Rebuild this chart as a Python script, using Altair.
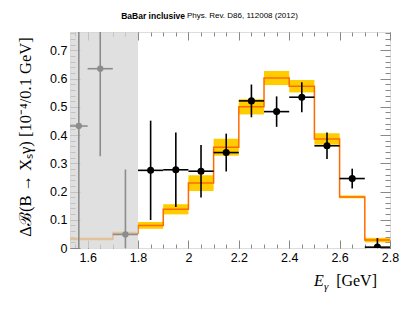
import altair as alt
import pandas as pd

# ---- data ----
edges = [1.53, 1.6, 1.7, 1.8, 1.9, 2.0, 2.1, 2.2, 2.3, 2.4, 2.5, 2.6, 2.7, 2.8]
pred = [0.032, 0.032, 0.052, 0.080, 0.137, 0.230, 0.357, 0.500, 0.602, 0.573, 0.386, 0.181, 0.028]
pred_err = [0.005, 0.005, 0.006, 0.012, 0.018, 0.028, 0.030, 0.027, 0.025, 0.022, 0.020, 0.005, 0.008]

data_x = [1.85, 1.95, 2.05, 2.15, 2.25, 2.35, 2.45, 2.55, 2.65, 2.75]
data_y = [0.275, 0.277, 0.272, 0.338, 0.521, 0.483, 0.534, 0.362, 0.246, 0.003]
data_err = [0.176, 0.132, 0.093, 0.067, 0.058, 0.054, 0.053, 0.047, 0.035, 0.032]
data_hw = [0.05] * 10

low_x = [1.565, 1.65, 1.75]
low_y = [0.432, 0.635, 0.048]
low_err = [0.48, 0.31, 0.23]
low_hw = [0.035, 0.05, 0.05]

region = [1.53, 1.8]

x_major = [1.6, 1.8, 2.0, 2.2, 2.4, 2.6, 2.8]
x_minor = [1.55, 1.6, 1.65, 1.7, 1.75, 1.8, 1.85, 1.9, 1.95, 2.0, 2.05, 2.1, 2.15, 2.2, 2.25,
           2.3, 2.35, 2.4, 2.45, 2.5, 2.55, 2.6, 2.65, 2.7, 2.75, 2.8]
y_major = [0, 0.1, 0.2, 0.3, 0.4, 0.5, 0.6, 0.7]
y_minor = [0, 0.02, 0.04, 0.06, 0.08, 0.1, 0.12, 0.14, 0.16, 0.18, 0.2, 0.22, 0.24, 0.26, 0.28,
           0.3, 0.32, 0.34, 0.36, 0.38, 0.4, 0.42, 0.44, 0.46, 0.48, 0.5, 0.52, 0.54, 0.56,
           0.58, 0.6, 0.62, 0.64, 0.66, 0.68, 0.7, 0.72, 0.74, 0.76]

# ---- tables ----
bins = pd.DataFrame({
    "lo": edges[:-1], "hi": edges[1:], "v": pred,
    "vlo": [v - e for v, e in zip(pred, pred_err)],
    "vhi": [v + e for v, e in zip(pred, pred_err)],
})
step = pd.DataFrame({"x": edges, "v": pred + [pred[-1]]})
pts = pd.DataFrame({
    "x": data_x, "y": data_y,
    "ylo": [y - e for y, e in zip(data_y, data_err)],
    "yhi": [y + e for y, e in zip(data_y, data_err)],
    "xlo": [x - h for x, h in zip(data_x, data_hw)],
    "xhi": [x + h for x, h in zip(data_x, data_hw)],
})
low = pd.DataFrame({
    "x": low_x, "y": low_y,
    "ylo": [y - e for y, e in zip(low_y, low_err)],
    "yhi": [y + e for y, e in zip(low_y, low_err)],
    "xlo": [x - h for x, h in zip(low_x, low_hw)],
    "xhi": [x + h for x, h in zip(low_x, low_hw)],
})
reg = pd.DataFrame({"a": [region[0]], "b": [region[1]]})

xs = alt.Scale(domain=[1.53, 2.8], nice=False, zero=False)
ys = alt.Scale(domain=[0, 0.765], nice=False, zero=False)

FRAME = "#888888"
SANS = "Liberation Sans"
SERIF = "Liberation Serif"


def ax(orient, values, size, labels=False):
    kw = dict(orient=orient, values=values, tickSize=size, offset=-size, domain=False,
              grid=False, tickColor=FRAME, tickWidth=1, title=None, labels=labels)
    if labels:
        kw.update(labelFont=SANS, labelFontSize=12.5, labelColor="black", format="~g",
                  labelPadding=3, labelFlush=False, labelOverlap=False)
    return alt.Axis(**kw)


band = alt.Chart(bins).mark_rect(color="#ffcc00", clip=True).encode(
    x=alt.X("lo:Q", scale=xs, axis=None), x2="hi:Q",
    y=alt.Y("vlo:Q", scale=ys, axis=None), y2="vhi:Q")

line = alt.Chart(step).mark_line(interpolate="step-after", color="#ff6a00", strokeWidth=1.5,
                                 clip=True).encode(
    x=alt.X("x:Q", scale=xs, axis=None), y=alt.Y("v:Q", scale=ys, axis=None))

shade = alt.Chart(reg).mark_rect(color="#d6d6d6", opacity=0.75).encode(
    x=alt.X("a:Q", scale=xs, axis=None), x2="b:Q",
    y=alt.value(0), y2=alt.value(216))


def points(df, color, size):
    v = alt.Chart(df).mark_rule(color=color, strokeWidth=1.6, clip=True).encode(
        x=alt.X("x:Q", scale=xs, axis=None),
        y=alt.Y("ylo:Q", scale=ys, axis=None), y2="yhi:Q")
    h = alt.Chart(df).mark_rule(color=color, strokeWidth=1.6, clip=True).encode(
        x=alt.X("xlo:Q", scale=xs, axis=None), x2="xhi:Q",
        y=alt.Y("y:Q", scale=ys, axis=None))
    p = alt.Chart(df).mark_circle(color=color, size=size, opacity=1, clip=True).encode(
        x=alt.X("x:Q", scale=xs, axis=None), y=alt.Y("y:Q", scale=ys, axis=None))
    return [v, h, p]


def axis_layer(xa, ya):
    return alt.Chart(pts).mark_point(opacity=0).encode(
        x=alt.X("x:Q", scale=xs, axis=xa), y=alt.Y("y:Q", scale=ys, axis=ya))


axes = [
    axis_layer(ax("bottom", x_major, 8, True), ax("left", y_major, 10, True)),
    axis_layer(ax("bottom", x_minor, 4), ax("left", y_minor, 5)),
    axis_layer(ax("top", x_major, 8), ax("right", y_major, 10)),
    axis_layer(ax("top", x_minor, 4), ax("right", y_minor, 5)),
]


def txt(s, x, y, **kw):
    return alt.Chart(pd.DataFrame({"t": [s]})).mark_text(**kw).encode(
        text="t:N", x=alt.value(x), y=alt.value(y))


texts = [
    txt("BaBar inclusive", 115, -16, align="right", baseline="middle", font=SANS,
        fontWeight="bold", fontSize=8.5, color="black"),
    txt("Phys. Rev. D86, 112008 (2012)", 117, -16, align="left", baseline="middle",
        font=SANS, fontSize=8, color="black"),
    txt("\u0394\u212c(B \u2192 X\u209b\u03b3) [10\u207b\u2074/0.1 GeV]", -44, 105, angle=270,
        align="center", baseline="middle", font=SERIF, fontSize=16.5, color="black"),
    txt("E", 244, 254, align="left", baseline="alphabetic", font=SERIF, fontStyle="italic",
        fontSize=16, color="black"),
    txt("\u03b3", 254, 258, align="left", baseline="alphabetic", font=SERIF,
        fontStyle="italic", fontSize=11, color="black"),
    txt("[GeV]", 307, 254, align="right", baseline="alphabetic", font=SERIF, fontSize=16,
        color="black"),
]

layers = [band, line, shade] + points(low, "#8c8c8c", 40) + points(pts, "black", 50) + axes + texts

chart = alt.layer(*layers).resolve_axis(x="independent", y="independent").properties(
    width=320, height=216,
    autosize=alt.AutoSizeParams(type="none"),
    padding={"left": 62, "top": 24, "right": 17, "bottom": 50},
).configure_view(stroke=FRAME, strokeWidth=1).configure(background="white")

chart.save("out.html", embed_options={"renderer": "svg", "actions": False})
